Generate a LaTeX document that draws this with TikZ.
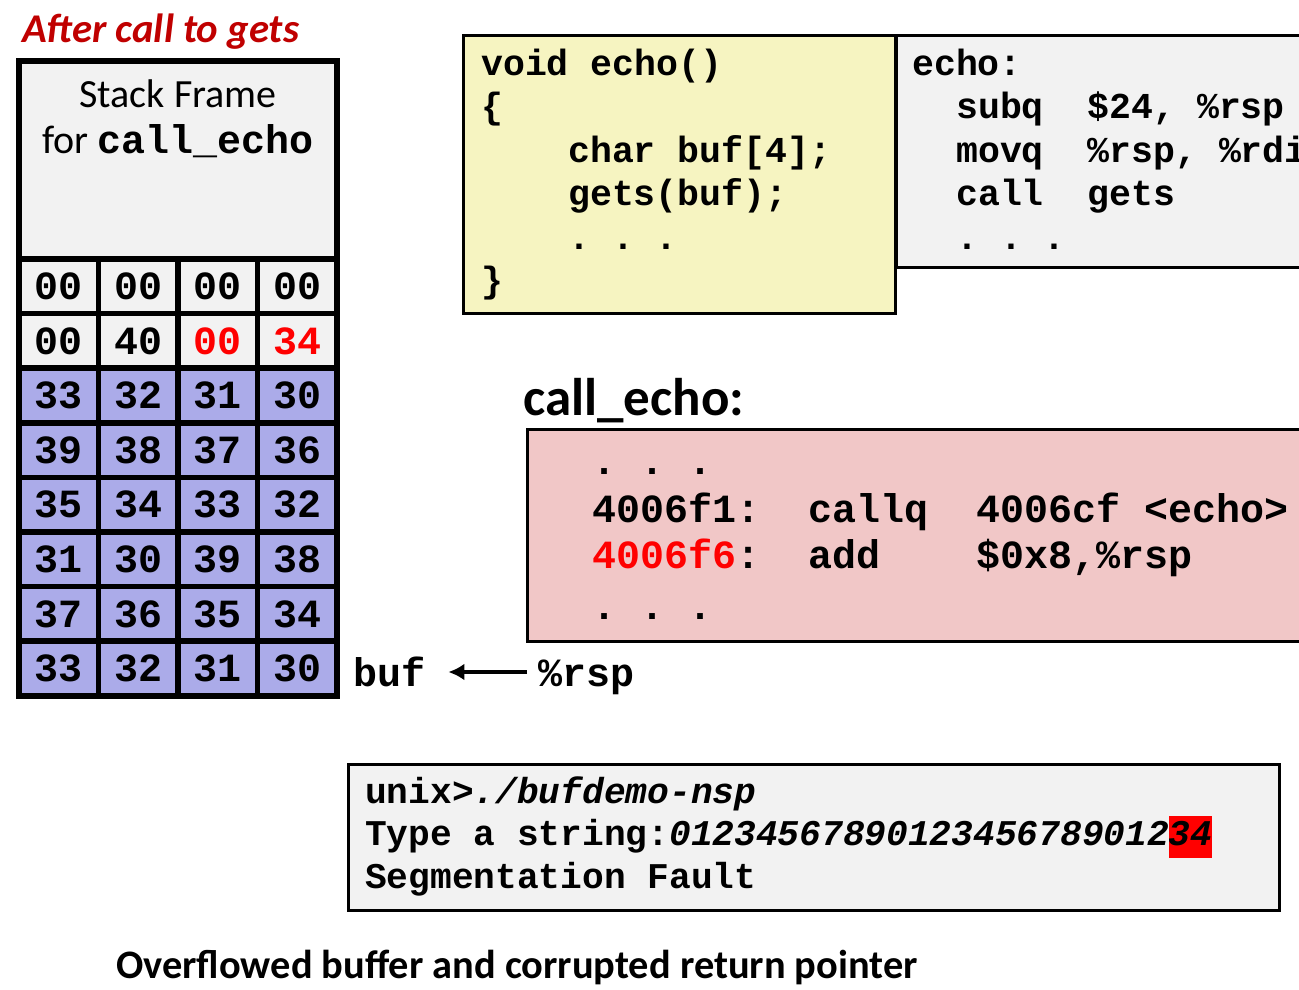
\documentclass[tikz,border=0pt]{standalone}
\usepackage{fontspec}
\setmainfont{Carlito}
\newfontfamily\monofam{Liberation Mono}
\usetikzlibrary{arrows.meta}

\definecolor{panelgray}{RGB}{242,242,242}
\definecolor{cellblue}{RGB}{171,171,233}
\definecolor{codeyellow}{RGB}{246,244,193}
\definecolor{codepink}{RGB}{241,199,199}
\definecolor{darkred}{RGB}{192,0,0}
\definecolor{hotred}{RGB}{255,0,0}

% red background behind overwritten input bytes
\newcommand\redmark[1]{{\setlength{\fboxsep}{0pt}\colorbox{hotred}{\rule[-13pt]{0pt}{42pt}#1}}}

\begin{document}
\begin{tikzpicture}[x=1pt,y=-1pt,
  cell/.style={draw=black, line width=5.5pt, minimum width=79.5pt, minimum height=54.6pt,
    inner sep=0pt, font=\monofam\bfseries\fontsize{40pt}{48pt}\selectfont},
  box/.style={draw=black, line width=3pt, inner sep=0pt},
  code/.style={anchor=base west, inner sep=0pt, font=\monofam\bfseries\fontsize{36.5pt}{44pt}\selectfont},
  bigcode/.style={anchor=base west, inner sep=0pt, font=\monofam\bfseries\fontsize{40pt}{48pt}\selectfont},
  term/.style={anchor=base west, inner sep=0pt, font=\monofam\bfseries\fontsize{36.2pt}{44pt}\selectfont},
  label/.style={anchor=base west, inner sep=0pt, font=\bfseries\fontsize{40.4pt}{48pt}\selectfont},
  ptr/.style={line width=4pt, -{Latex[length=16pt,width=17pt]}}
]
\useasboundingbox (0,0) rectangle (1299,989);
\begin{scope}
\clip (0,0) rectangle (1299,989);

% heading
\node[label, font=\bfseries\itshape\fontsize{40.8pt}{48pt}\selectfont, text=darkred]
  (title) at (22,42) {After call to gets};

% stack frame of the caller
\node[cell, fill=panelgray, minimum width=318pt, minimum height=198pt] (frame) at (178,160) {};
\node[anchor=base, inner sep=0pt, font=\fontsize{40pt}{48pt}\selectfont] (frameA) at (178,107) {Stack Frame};
\node[anchor=base, inner sep=0pt, font=\fontsize{40pt}{48pt}\selectfont] (frameB) at (178,153)
  {for {\monofam\bfseries call\_echo}};

% stack bytes, top row first
\foreach \r/\va/\vb/\vc/\vd/\fc in {
  1/00/00/00/00/panelgray,
  2/00/40/{\textcolor{hotred}{00}}/{\textcolor{hotred}{34}}/panelgray,
  3/33/32/31/30/cellblue,
  4/39/38/37/36/cellblue,
  5/35/34/33/32/cellblue,
  6/31/30/39/38/cellblue,
  7/37/36/35/34/cellblue,
  8/33/32/31/30/cellblue}{
  \node[cell, fill=\fc] (b-\r-1) at (58.75, {259+54.6*(\r-0.5)}) {\va};
  \node[cell, fill=\fc] (b-\r-2) at (138.25,{259+54.6*(\r-0.5)}) {\vb};
  \node[cell, fill=\fc] (b-\r-3) at (217.75,{259+54.6*(\r-0.5)}) {\vc};
  \node[cell, fill=\fc] (b-\r-4) at (297.25,{259+54.6*(\r-0.5)}) {\vd};
}

% buf pointer
\node[bigcode] (buf) at (353,686) {buf};
\node[bigcode] (rsp) at (538,686) {\%rsp};
\draw[ptr] ([xshift=-11pt,yshift=14pt]rsp.base west) -- ([xshift=23pt,yshift=14pt]buf.base east);

% assembly of echo
\node[box, fill=panelgray, minimum width=424pt, minimum height=231.5pt] (asm) at (1108,151.25) {};
\node[code] (a1) at (912,75)    {echo:};
\node[code] (a2) at (956,118.5) {subq~~\$24,~\%rsp};
\node[code] (a3) at (956,162)   {movq~~\%rsp,~\%rdi};
\node[code] (a4) at (956,205.5) {call~~gets};
\node[code] (a5) at (956,249)   {.~.~.};

% C source of echo
\node[box, fill=codeyellow, minimum width=431.5pt, minimum height=277.5pt] (src) at (679.25,174.25) {};
\node[code] (s1) at (481,75)    {void echo()};
\node[code] (s2) at (481,118.5) {\{};
\node[code] (s3) at (568,162)   {char buf[4];};
\node[code] (s4) at (568,205.5) {gets(buf);};
\node[code] (s5) at (568,249)   {.~.~.};
\node[code] (s6) at (481,292.5) {\}};

% disassembly of call_echo
\node[anchor=base west, inner sep=0pt, font=\bfseries\fontsize{53pt}{60pt}\selectfont]
  (caller) at (523,415) {call\_echo:};
\node[box, fill=codepink, minimum width=793pt, minimum height=212pt] (dis) at (923.5,535.5) {};
\node[bigcode] (d1) at (592,474) {.~.~.};
\node[bigcode] (d2) at (592,522) {4006f1:~~callq~~4006cf~<echo>};
\node[bigcode] (d3) at (592,568) {\textcolor{hotred}{4006f6}:~~add~~~~\$0x8,\%rsp};
\node[bigcode] (d4) at (592,619) {.~.~.};

% terminal session
\node[box, fill=panelgray, minimum width=931pt, minimum height=146pt] (shell) at (813.5,837) {};
\node[term] (t1) at (365,803) {unix>\textit{./bufdemo-nsp}};
\node[term] (t2) at (365,845) {Type~a~string:\textit{01234567890123456789012\redmark{34}}};
\node[term] (t3) at (365,888) {Segmentation~Fault};

% caption
\node[label] (caption) at (116,978) {Overflowed buffer and corrupted return pointer};
\end{scope}
\end{tikzpicture}
\end{document}
